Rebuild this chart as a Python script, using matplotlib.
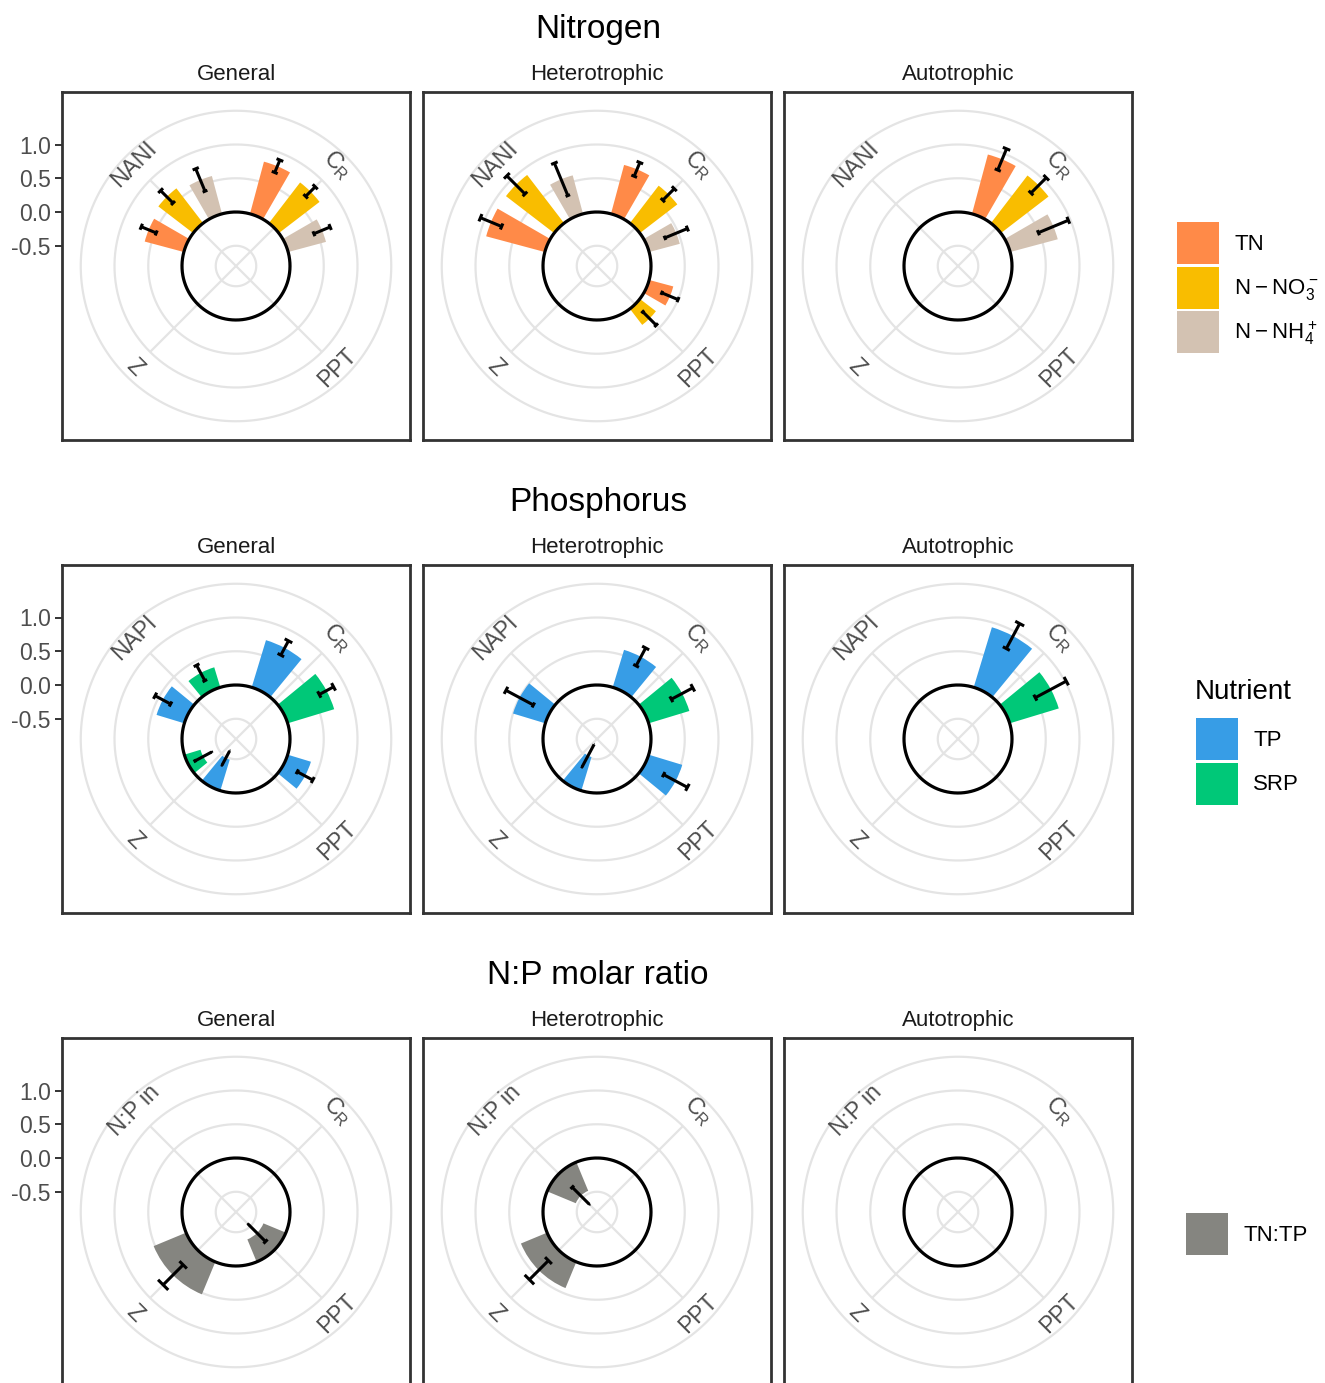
import numpy as np
import matplotlib
matplotlib.use("Agg")
import matplotlib.pyplot as plt
from matplotlib.patches import Patch

plt.rcParams["font.family"] = ["Liberation Sans", "DejaVu Sans"]
plt.rcParams["mathtext.fontset"] = "custom"
plt.rcParams["mathtext.rm"] = "Liberation Sans"
plt.rcParams["mathtext.default"] = "regular"

nan = np.nan
W, H, DPI = 1325, 1383, 100

FACETS = ["General", "Heterotrophic", "Autotrophic"]
ROW_TITLES = ["Nitrogen", "Phosphorus", "N:P molar ratio"]

# ---- nitrogen (categories clockwise from top) ----
N_CATS = [r"$C_R$", "PPT", "Z", "NANI"]
N_LABELS = ["TN", r"$N-NO_3^-$", r"$N-NH_4^+$"]
N_COLORS = ["#FF8A48", "#F9BD00", "#D3C2B2"]
N_MEAN = {
    "General":       [[0.80, nan, nan, 0.60], [0.76, nan, nan, 0.65], [0.58, nan, nan, 0.58]],
    "Heterotrophic": [[0.75, 0.37, nan, 0.90], [0.70, 0.30, nan, 0.90], [0.47, nan, nan, 0.59]],
    "Autotrophic":   [[0.91, nan, nan, nan], [0.89, nan, nan, nan], [0.73, nan, nan, nan]],
}
N_SE = {
    "General":       [[0.10, nan, nan, 0.12], [0.10, nan, nan, 0.13], [0.13, nan, nan, 0.18]],
    "Heterotrophic": [[0.11, 0.13, nan, 0.17], [0.12, 0.14, nan, 0.19], [0.18, nan, nan, 0.26]],
    "Autotrophic":   [[0.17, nan, nan, nan], [0.16, nan, nan, nan], [0.24, nan, nan, nan]],
}

# ---- phosphorus ----
P_CATS = [r"$C_R$", "PPT", "Z", "NAPI"]
P_LABELS = ["TP", "SRP"]
P_COLORS = ["#379DE6", "#00C878"]
P_MEAN = {
    "General":       [[0.73, 0.36, -0.48, 0.43], [0.72, nan, -0.25, 0.31]],
    "Heterotrophic": [[0.58, 0.52, -0.52, 0.50], [0.63, nan, nan, nan]],
    "Autotrophic":   [[0.93, nan, nan, nan], [0.76, nan, nan, nan]],
}
P_SE = {
    "General":       [[0.12, 0.13, 0.12, 0.13], [0.12, nan, 0.14, 0.13]],
    "Heterotrophic": [[0.15, 0.20, 0.19, 0.23], [0.18, nan, nan, nan]],
    "Autotrophic":   [[0.21, nan, nan, nan], [0.26, nan, nan, nan]],
}

# ---- N:P molar ratio ----
NP_CATS = [r"$C_R$", "PPT", "Z", "N:P in"]
NP_LABELS = ["TN:TP"]
NP_COLORS = ["#858580"]
NP_MEAN = {
    "General":       [[nan, -0.36, 0.52, nan]],
    "Heterotrophic": [[nan, nan, 0.42, -0.46]],
    "Autotrophic":   [[nan, nan, nan, nan]],
}
NP_SE = {
    "General":       [[nan, 0.18, 0.21, nan]],
    "Heterotrophic": [[nan, nan, 0.20, 0.18]],
    "Autotrophic":   [[nan, nan, nan, nan]],
}

Y_TICKS = [-0.5, 0.0, 0.5, 1.0]
Y_TICKLABELS = ["-0.5", "0.0", "0.5", "1.0"]
GRID_R = [-0.5, 0.5, 1.0, 1.5]

# layout (pixels)
PANEL_LEFT = [62, 423, 784]
PANEL_TOP = [92, 565, 1038]
PANEL = 348
RMIN, RMAX = -0.8, 1.5
HALF_UNITS = 174 / 67.5          # half panel width in radial units
GRID_COL = "#E4E4E4"
TXT_COL = "#4D4D4D"


def px_rect(left, top, w, h):
    return [left / W, 1 - (top + h) / H, w / W, h / H]


def draw_panel(fig, left, top, cats, means, ses, colors, cap_deg, show_y):
    frame = fig.add_axes(px_rect(left, top, PANEL, PANEL), zorder=1)
    frame.set_xlim(-HALF_UNITS, HALF_UNITS)
    frame.set_ylim(RMIN - HALF_UNITS, RMIN + HALF_UNITS)
    frame.set_xticks([])
    for s in frame.spines.values():
        s.set_color("#333333"); s.set_linewidth(2.0)
    if show_y:
        frame.set_yticks(Y_TICKS)
        frame.set_yticklabels(Y_TICKLABELS)
        frame.tick_params(axis="y", length=5, width=1.4, color="#333333",
                          labelsize=16.5, labelcolor=TXT_COL, pad=3)
    else:
        frame.set_yticks([])

    half = PANEL / 2
    rp = (RMAX - RMIN) / HALF_UNITS * half
    cx, cy = left + half, top + half
    ax = fig.add_axes(px_rect(cx - rp, cy - rp, 2 * rp, 2 * rp),
                      projection="polar", zorder=2)
    ax.set_theta_zero_location("N")
    ax.set_theta_direction(-1)
    ax.set_ylim(RMIN, RMAX)
    ax.set_xticks([]); ax.set_yticks([])
    ax.grid(False)
    for s in ax.spines.values():
        s.set_visible(False)
    ax.patch.set_alpha(0)

    th = np.linspace(0, 2 * np.pi, 400)
    for r in GRID_R:
        ax.plot(th, np.full_like(th, r), color=GRID_COL, lw=1.6, zorder=1,
                clip_on=False, solid_capstyle="butt")
    cat_ang = np.deg2rad([45, 135, 225, 315])
    for a in cat_ang:
        ax.plot([a, a], [RMIN, 1.0], color=GRID_COL, lw=1.6, zorder=1,
                solid_capstyle="butt")

    n = len(means)
    step = 0.75 / n * (np.pi / 2)
    width = 0.5 / n * (np.pi / 2)
    cap = np.deg2rad(cap_deg)
    for i in range(n):
        m = np.array(means[i], dtype=float)
        e = np.array(ses[i], dtype=float)
        ok = ~np.isnan(m)
        if not ok.any():
            continue
        t = cat_ang + (i - (n - 1) / 2) * step
        ax.bar(t[ok], m[ok], width=width, bottom=0, color=colors[i],
               linewidth=0, zorder=2)
        ax.vlines(t[ok], m[ok] - e[ok], m[ok] + e[ok], colors="black", lw=2.2, zorder=3)
        for sgn in (-1, 1):
            ax.hlines(m[ok] + sgn * e[ok], t[ok] - cap, t[ok] + cap,
                      colors="black", lw=2.2, zorder=3)

    ax.plot(th, np.zeros_like(th), color="black", lw=2.3, zorder=4,
            solid_capstyle="butt")

    for a, lab in zip([45, 135, 225, 315], cats):
        rot = -45 if a in (45, 225) else 45
        ax.text(np.deg2rad(a), 1.33, lab, rotation=rot, rotation_mode="anchor",
                ha="center", va="center", fontsize=16.5, color=TXT_COL, clip_on=False)


fig = plt.figure(figsize=(W / DPI, H / DPI), dpi=DPI)

rows = [
    (N_CATS, N_MEAN, N_SE, N_COLORS, 1.8),
    (P_CATS, P_MEAN, P_SE, P_COLORS, 2.2),
    (NP_CATS, NP_MEAN, NP_SE, NP_COLORS, 4.0),
]
for r, (cats, mean, se, cols, capd) in enumerate(rows):
    top = PANEL_TOP[r]
    fig.text(598 / W, 1 - (top - 54) / H, ROW_TITLES[r], ha="center",
             va="baseline", fontsize=24, color="black")
    for c, facet in enumerate(FACETS):
        left = PANEL_LEFT[c]
        draw_panel(fig, left, top, cats, mean[facet], se[facet], cols, capd, c == 0)
        fig.text((left + PANEL / 2) / W, 1 - (top - 12) / H, facet, ha="center",
                 va="baseline", fontsize=16, color="#1A1A1A")

leg_kw = dict(frameon=False, fontsize=16, handlelength=1.9, handleheight=2.55,
              labelspacing=0.1, handletextpad=0.68, borderpad=0, borderaxespad=0,
              loc="upper left")

fig.legend([Patch(facecolor=c, edgecolor="none") for c in N_COLORS], N_LABELS,
           bbox_to_anchor=(1177 / W, 1 - 222 / H), **leg_kw)

fig.text(1195 / W, 1 - 699 / H, "Nutrient", ha="left", va="baseline", fontsize=20)
fig.legend([Patch(facecolor=c, edgecolor="none") for c in P_COLORS], P_LABELS,
           bbox_to_anchor=(1196 / W, 1 - 718 / H), **leg_kw)

fig.legend([Patch(facecolor=c, edgecolor="none") for c in NP_COLORS], NP_LABELS,
           bbox_to_anchor=(1186 / W, 1 - 1213 / H), **leg_kw)

fig.savefig("out.png", dpi=DPI)
